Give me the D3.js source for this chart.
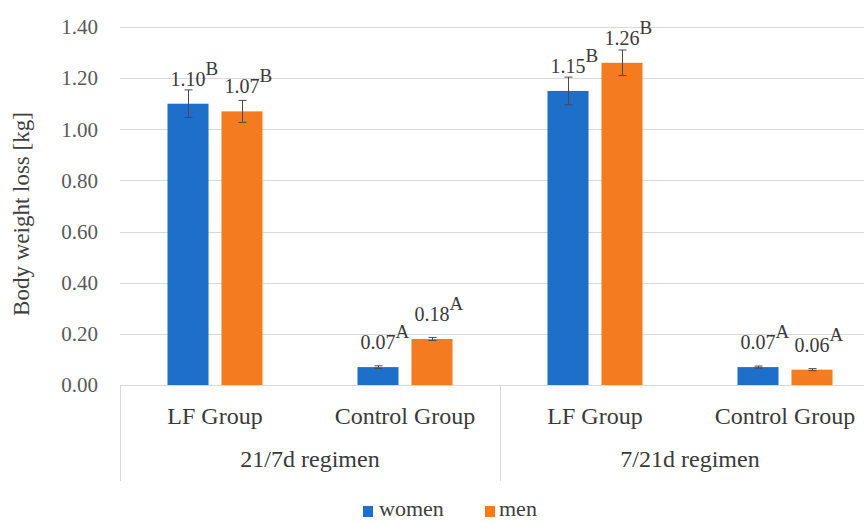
<!DOCTYPE html>
<html>
<head>
<meta charset="utf-8">
<script src="https://cdn.jsdelivr.net/npm/d3@7"></script>
<style>
  html, body { margin: 0; padding: 0; background: #ffffff; }
  svg { display: block; }
  text { font-family: "Liberation Serif", "Times New Roman", serif; }
</style>
</head>
<body>
<svg id="chart" width="864" height="523"></svg>
<script>
// Data
const regimens = ["21/7d regimen", "7/21d regimen"];
const groups = ["LF Group", "Control Group"];
const categories = ["21/7d|LF Group", "21/7d|Control Group", "7/21d|LF Group", "7/21d|Control Group"];
const seriesNames = ["women", "men"];
const womenValues = [1.10, 0.07, 1.15, 0.07];
const menValues = [1.07, 0.18, 1.26, 0.06];
const womenErrors = [0.054, 0.005, 0.054, 0.004];
const menErrors = [0.043, 0.006, 0.05, 0.004];
const womenLetters = ["B", "A", "B", "A"];
const menLetters = ["B", "A", "B", "A"];
const yTicks = [0, 0.2, 0.4, 0.6, 0.8, 1.0, 1.2, 1.4];

const colors = { women: "#1d6fc9", men: "#f57b20" };

const svg = d3.select("#chart");
const plot = { left: 120, right: 880, top: 27, bottom: 385 };

const y = d3.scaleLinear().domain([0, 1.4]).range([plot.bottom, plot.top]);
const x0 = d3.scaleBand().domain(categories).range([plot.left, plot.right]);
const x1 = d3.scaleBand().domain(seriesNames)
  .range([x0.bandwidth() / 2 - 47.5, x0.bandwidth() / 2 + 47.5])
  .paddingInner(0.24);

// Horizontal gridlines
svg.append("g").selectAll("line").data(yTicks).join("line")
  .attr("x1", plot.left).attr("x2", plot.right)
  .attr("y1", d => Math.round(y(d)) + 0.5).attr("y2", d => Math.round(y(d)) + 0.5)
  .attr("stroke", "#d9d9d9").attr("stroke-width", 1);

// Y axis tick labels
const fmt = d3.format(".2f");
svg.append("g").selectAll("text").data(yTicks).join("text")
  .attr("x", 98).attr("y", d => y(d)).attr("dy", "0.35em")
  .attr("text-anchor", "end")
  .attr("font-size", 21).attr("fill", "#595959")
  .text(d => fmt(d));

// Y axis title
svg.append("text")
  .attr("transform", "translate(29,214) rotate(-90)")
  .attr("text-anchor", "middle")
  .attr("font-size", 23).attr("fill", "#404040")
  .text("Body weight loss [kg]");

// Bars
const rows = categories.map((c, i) => [
  { cat: c, key: "women", value: womenValues[i], err: womenErrors[i], letter: womenLetters[i] },
  { cat: c, key: "men", value: menValues[i], err: menErrors[i], letter: menLetters[i] }
]).flat();

svg.append("g").selectAll("rect").data(rows).join("rect")
  .attr("x", d => x0(d.cat) + x1(d.key))
  .attr("width", x1.bandwidth())
  .attr("y", d => y(d.value))
  .attr("height", d => y(0) - y(d.value))
  .attr("fill", d => colors[d.key]);

// Error bars
const eb = svg.append("g").attr("stroke", "#4a4a4a").attr("stroke-width", 1);
rows.forEach(d => {
  const cx = Math.round(x0(d.cat) + x1(d.key) + x1.bandwidth() / 2) + 0.5;
  const yTop = y(d.value + d.err), yBot = y(d.value - d.err);
  eb.append("line").attr("x1", cx).attr("x2", cx).attr("y1", yTop).attr("y2", yBot);
  eb.append("line").attr("x1", cx - 4).attr("x2", cx + 4).attr("y1", yTop).attr("y2", yTop);
  eb.append("line").attr("x1", cx - 4).attr("x2", cx + 4).attr("y1", yBot).attr("y2", yBot);
});

// Value labels with significance letters
const lab = svg.append("g");
rows.forEach(d => {
  const cx = x0(d.cat) + x1(d.key) + x1.bandwidth() / 2;
  const by = y(d.value) - 18;
  const num = lab.append("text")
    .attr("x", cx).attr("y", by)
    .attr("text-anchor", "middle")
    .attr("font-size", 20).attr("fill", "#3a3a3a")
    .text(fmt(d.value));
  const w = num.node().getComputedTextLength();
  lab.append("text")
    .attr("x", cx + w / 2).attr("y", by - 11)
    .attr("font-size", 19).attr("fill", "#3a3a3a")
    .text(d.letter);
});

// Category axis: baseline, separators, labels
const ax = svg.append("g");
ax.append("line")
  .attr("x1", plot.left).attr("x2", plot.right)
  .attr("y1", plot.bottom + 0.5).attr("y2", plot.bottom + 0.5)
  .attr("stroke", "#d9d9d9");
const sepX = [plot.left, x0(categories[2]), plot.right];
ax.selectAll("line.sep").data(sepX).join("line").attr("class", "sep")
  .attr("x1", d => Math.round(d) + 0.5).attr("x2", d => Math.round(d) + 0.5)
  .attr("y1", plot.bottom).attr("y2", 481)
  .attr("stroke", "#d9d9d9");

ax.selectAll("text.grp").data(categories).join("text").attr("class", "grp")
  .attr("x", d => x0(d) + x0.bandwidth() / 2)
  .attr("y", 424)
  .attr("text-anchor", "middle")
  .attr("font-size", 24).attr("fill", "#3a3a3a")
  .text(d => d.split("|")[1]);

ax.selectAll("text.reg").data(regimens).join("text").attr("class", "reg")
  .attr("x", (d, i) => x0(categories[i * 2]) + x0.bandwidth())
  .attr("y", 467)
  .attr("text-anchor", "middle")
  .attr("font-size", 24).attr("fill", "#3a3a3a")
  .text(d => d);

// Legend
const legend = svg.append("g");
const legendItems = [
  { key: "women", sx: 363, tx: 379 },
  { key: "men", sx: 485, tx: 499 }
];
legendItems.forEach(it => {
  legend.append("rect").attr("x", it.sx).attr("y", 506).attr("width", 10).attr("height", 11)
    .attr("fill", colors[it.key]);
  legend.append("text").attr("x", it.tx).attr("y", 516)
    .attr("font-size", 22).attr("fill", "#404040")
    .text(it.key);
});
</script>
</body>
</html>
